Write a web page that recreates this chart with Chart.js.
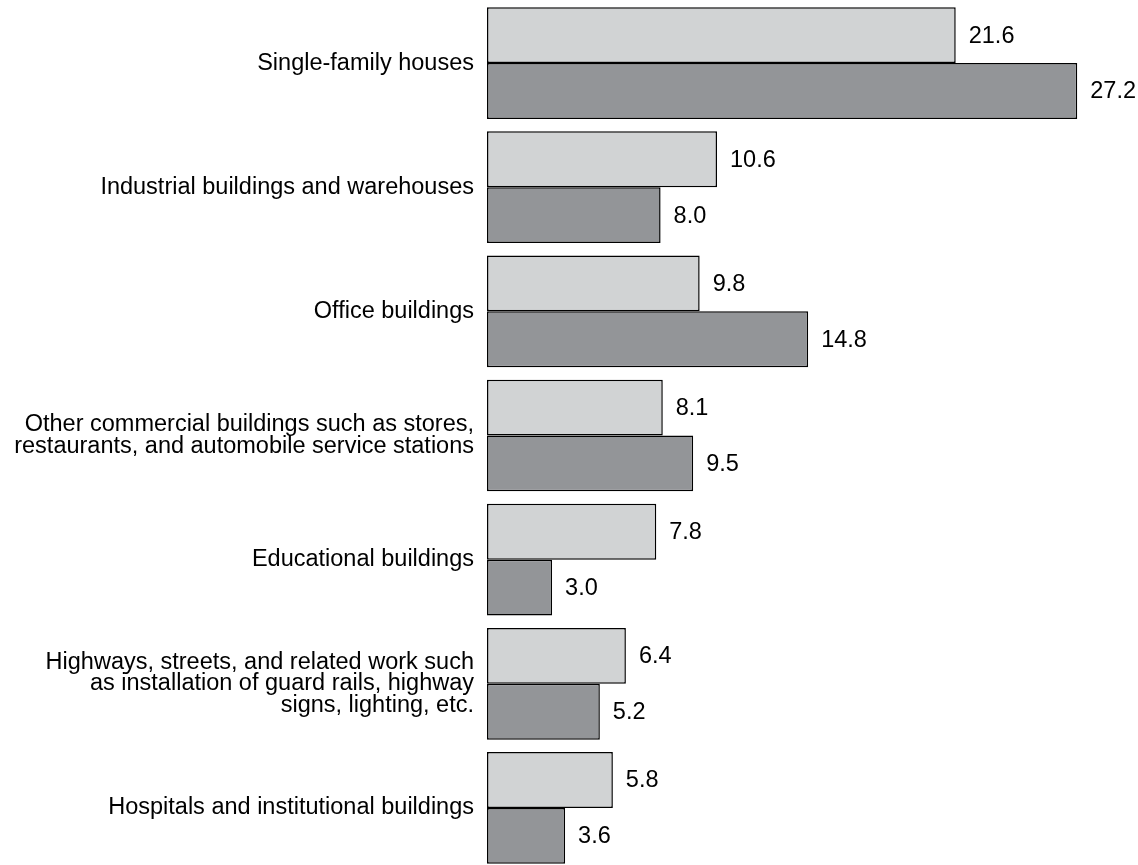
<!DOCTYPE html>
<html>
<head>
<meta charset="utf-8">
<script src="https://cdn.jsdelivr.net/npm/chart.js@4"></script>
<style>
  html, body { margin: 0; padding: 0; background: #fff; overflow: hidden; }
  #wrap { width: 1138px; height: 871px; }
</style>
</head>
<body>
<div id="wrap"><canvas id="chart"></canvas></div>
<script>
// Categories (multi-line labels as in the picture)
const categories = [
    'Single-family houses',
    'Industrial buildings and warehouses',
    'Office buildings',
    ['Other commercial buildings such as stores,', 'restaurants, and automobile service stations'],
    'Educational buildings',
    ['Highways, streets, and related work such', 'as installation of guard rails, highway', 'signs, lighting, etc.'],
    'Hospitals and institutional buildings'
];
// Upper (light) and lower (dark) bar of each pair
const lightValues = [21.6, 10.6, 9.8, 8.1, 7.8, 6.4, 5.8];
const darkValues = [27.2, 8.0, 14.8, 9.5, 3.0, 5.2, 3.6];
const xMax = 30;

const fontFamily = '"Liberation Sans", Arial, sans-serif';

// Draw the value next to each bar end
const valueLabels = {
    id: 'valueLabels',
    afterDatasetsDraw(chart) {
        const ctx = chart.ctx;
        ctx.save();
        ctx.font = '23.5px ' + fontFamily;
        ctx.fillStyle = '#000';
        ctx.textBaseline = 'middle';
        ctx.textAlign = 'left';
        chart.data.datasets.forEach(function (ds, i) {
            chart.getDatasetMeta(i).data.forEach(function (bar, j) {
                ctx.fillText(ds.data[j].toFixed(1), bar.x + 13, bar.y + 1);
            });
        });
        ctx.restore();
    }
};

new Chart(document.getElementById('chart'), {
    type: 'bar',
    data: {
        labels: categories,
        datasets: [{
            data: lightValues,
            backgroundColor: '#d1d3d4',
            borderColor: '#000',
            borderWidth: 1.5,
            borderSkipped: false,
            categoryPercentage: 0.9,
            barPercentage: 1
        }, {
            data: darkValues,
            backgroundColor: '#939598',
            borderColor: '#000',
            borderWidth: 1.5,
            borderSkipped: false,
            categoryPercentage: 0.9,
            barPercentage: 1
        }]
    },
    options: {
        indexAxis: 'y',
        responsive: true,
        maintainAspectRatio: false,
        animation: false,
        layout: { padding: { top: 1, bottom: 1, left: 0, right: 0 } },
        plugins: {
            legend: { display: false },
            tooltip: { enabled: false }
        },
        scales: {
            x: {
                min: 0,
                max: xMax,
                display: false
            },
            y: {
                grid: { display: false, drawTicks: false },
                border: { display: false },
                afterFit: function (scale) {
                    scale.width = 487;
                    scale.paddingTop = 0;
                    scale.paddingBottom = 0;
                },
                ticks: {
                    color: '#000',
                    padding: 13,
                    font: { family: fontFamily, size: 23.5, lineHeight: 0.915 }
                }
            }
        }
    },
    plugins: [valueLabels]
});
</script>
</body>
</html>
